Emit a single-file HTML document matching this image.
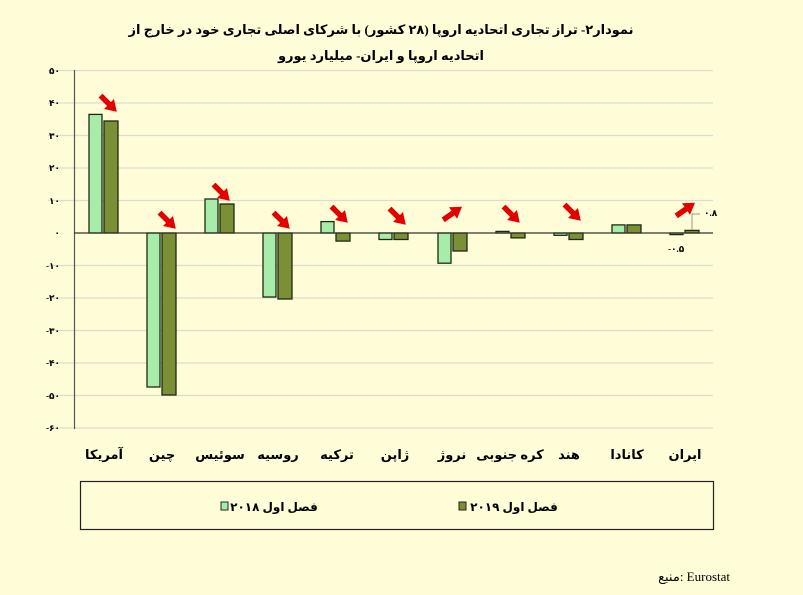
<!DOCTYPE html>
<html><head><meta charset="utf-8"><style>
body{margin:0;background:#fffdd7;}
svg{display:block;font-family:"Liberation Serif","DejaVu Sans",serif;}
.b{font-weight:bold;}
</style></head><body>
<svg width="803" height="595" viewBox="0 0 803 595" xmlns="http://www.w3.org/2000/svg">
<rect width="803" height="595" fill="#fffdd7"/>
<defs>
<g id="ar"><path d="M-12,0 L2,0" stroke="#e40000" stroke-width="5.5"/><polygon points="0,-7 11,0 0,7" fill="#e40000"/></g>
</defs>
<text x="381" y="34" text-anchor="middle" font-size="13" class="b" direction="rtl" textLength="505" lengthAdjust="spacingAndGlyphs">نمودار۲- تراز تجاری اتحادیه اروپا (۲۸ کشور) با شرکای اصلی تجاری خود در خارج از</text>
<text x="381" y="60" text-anchor="middle" font-size="13" class="b" direction="rtl">اتحادیه اروپا و ایران- میلیارد یورو</text>
<g stroke="#dcdcd0" stroke-width="1.2">
<line x1="48" x2="713" y1="70.5" y2="70.5"/><line x1="48" x2="713" y1="103" y2="103"/><line x1="48" x2="713" y1="135.5" y2="135.5"/><line x1="48" x2="713" y1="168" y2="168"/><line x1="48" x2="713" y1="200.5" y2="200.5"/>
<line x1="48" x2="713" y1="265.5" y2="265.5"/><line x1="48" x2="713" y1="298" y2="298"/><line x1="48" x2="713" y1="330.5" y2="330.5"/><line x1="48" x2="713" y1="363" y2="363"/><line x1="48" x2="713" y1="395.5" y2="395.5"/><line x1="48" x2="713" y1="428" y2="428"/>
</g>
<g font-size="9" class="b" text-anchor="end">
<text x="60" y="74">۵۰</text><text x="60" y="106">۴۰</text><text x="60" y="139">۳۰</text><text x="60" y="171">۲۰</text><text x="60" y="204">۱۰</text><text x="60" y="236">۰</text>
<text x="60" y="269">-۱۰</text><text x="60" y="301">-۲۰</text><text x="60" y="334">-۳۰</text><text x="60" y="366">-۴۰</text><text x="60" y="399">-۵۰</text><text x="60" y="431">-۶۰</text>
</g>
<line x1="74.5" y1="70" x2="74.5" y2="429" stroke="#555" stroke-width="1.2"/>
<g stroke="#1e2a10" stroke-width="1.3">
<g fill="#a7eda9">
<rect x="89" y="114.4" width="13" height="118.6"/>
<rect x="147" y="233" width="13" height="154"/>
<rect x="205" y="199" width="13" height="34"/>
<rect x="263" y="233" width="13" height="64"/>
<rect x="321" y="221.6" width="13" height="11.4"/>
<rect x="379" y="233" width="13" height="6.5"/>
<rect x="438" y="233" width="13" height="30.2"/>
<rect x="496" y="231.4" width="13" height="1.6"/>
<rect x="554" y="233" width="13" height="2.3"/>
<rect x="612" y="224.9" width="13" height="8.1"/>
<rect x="670" y="233" width="13" height="1.6"/>
</g>
<g fill="#7b8f37">
<rect x="104" y="121" width="14" height="112"/>
<rect x="162" y="233" width="14" height="162"/>
<rect x="220" y="204" width="14" height="29"/>
<rect x="278" y="233" width="14" height="66"/>
<rect x="336" y="233" width="14" height="8.1"/>
<rect x="394" y="233" width="14" height="6.5"/>
<rect x="453" y="233" width="14" height="18"/>
<rect x="511" y="233" width="14" height="4.9"/>
<rect x="569" y="233" width="14" height="6.5"/>
<rect x="627" y="224.9" width="14" height="8.1"/>
<rect x="685" y="230.4" width="14" height="2.6"/>
</g>
</g>
<line x1="74" y1="233" x2="713" y2="233" stroke="#333" stroke-width="1.3"/>
<g>
<use href="#ar" transform="translate(109,104) rotate(45)"/>
<use href="#ar" transform="translate(168,221) rotate(45)"/>
<use href="#ar" transform="translate(222,193) rotate(45)"/>
<use href="#ar" transform="translate(282,221) rotate(45)"/>
<use href="#ar" transform="translate(340,215) rotate(45)"/>
<use href="#ar" transform="translate(398,217) rotate(45)"/>
<use href="#ar" transform="translate(453,213) rotate(-35)"/>
<use href="#ar" transform="translate(512,215) rotate(45)"/>
<use href="#ar" transform="translate(573,213) rotate(45)"/>
<use href="#ar" transform="translate(686,209) rotate(-35)"/>
</g>
<polyline points="692,230 692,214 700,214" fill="none" stroke="#999" stroke-width="1"/>
<text x="704" y="216" font-size="9" class="b">۰.۸</text>
<text x="668" y="252" font-size="9" class="b">-۰.۵</text>
<g font-size="13" class="b" text-anchor="middle">
<text x="104" y="459">آمریکا</text><text x="162" y="459">چین</text><text x="220" y="459">سوئیس</text><text x="278" y="459">روسیه</text><text x="337" y="459">ترکیه</text><text x="395" y="459">ژاپن</text><text x="452" y="459">نروژ</text><text x="510" y="459">کره جنوبی</text><text x="569" y="459">هند</text><text x="627" y="459">کانادا</text><text x="685" y="459">ایران</text>
</g>
<rect x="80.5" y="481.5" width="633" height="48" fill="none" stroke="#222" stroke-width="1.2"/>
<rect x="221" y="502" width="7" height="8" fill="#a7eda9" stroke="#222"/>
<text x="274" y="511" font-size="12" class="b" text-anchor="middle">فصل اول ۲۰۱۸</text>
<rect x="459" y="502" width="7" height="8" fill="#7b8f37" stroke="#222"/>
<text x="514" y="511" font-size="12" class="b" text-anchor="middle">فصل اول ۲۰۱۹</text>
<text x="730" y="581" font-size="13" text-anchor="end">منبع: Eurostat</text>
</svg>
</body></html>
